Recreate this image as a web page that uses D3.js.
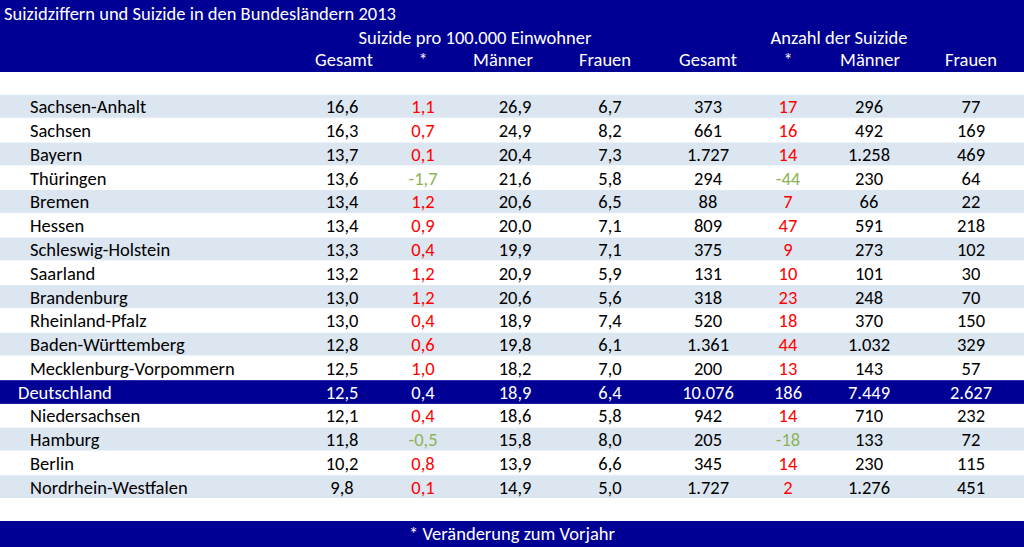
<!DOCTYPE html>
<html><head><meta charset="utf-8">
<script src="https://cdn.jsdelivr.net/npm/d3@7"></script>
<style>
html,body{margin:0;padding:0;background:#fff;}
svg{display:block;font-family:Carlito,Lato,"Open Sans",sans-serif;}
</style></head><body>
<svg id="c" width="1024" height="547"></svg>
<script>
const title = "Suizidziffern und Suizide in den Bundesländern 2013";
const groupLabels = ["Suizide pro 100.000 Einwohner", "Anzahl der Suizide"];
const columnLabels = ["Gesamt", "*", "Männer", "Frauen", "Gesamt", "*", "Männer", "Frauen"];
const footnote = "* Veränderung zum Vorjahr";
const states = ["Sachsen-Anhalt","Sachsen","Bayern","Thüringen","Bremen","Hessen","Schleswig-Holstein","Saarland","Brandenburg","Rheinland-Pfalz","Baden-Württemberg","Mecklenburg-Vorpommern","Deutschland","Niedersachsen","Hamburg","Berlin","Nordrhein-Westfalen"];
const rateTotal = [16.6,16.3,13.7,13.6,13.4,13.4,13.3,13.2,13.0,13.0,12.8,12.5,12.5,12.1,11.8,10.2,9.8];
const rateChange = [1.1,0.7,0.1,-1.7,1.2,0.9,0.4,1.2,1.2,0.4,0.6,1.0,0.4,0.4,-0.5,0.8,0.1];
const rateMen = [26.9,24.9,20.4,21.6,20.6,20.0,19.9,20.9,20.6,18.9,19.8,18.2,18.9,18.6,15.8,13.9,14.9];
const rateWomen = [6.7,8.2,7.3,5.8,6.5,7.1,7.1,5.9,5.6,7.4,6.1,7.0,6.4,5.8,8.0,6.6,5.0];
const countTotal = [373,661,1727,294,88,809,375,131,318,520,1361,200,10076,942,205,345,1727];
const countChange = [17,16,14,-44,7,47,9,10,23,18,44,13,186,14,-18,14,2];
const countMen = [296,492,1258,230,66,591,273,101,248,370,1032,143,7449,710,133,230,1276];
const countWomen = [77,169,469,64,22,218,102,30,70,150,329,57,2627,232,72,115,451];
const highlight = "Deutschland";

const W = 1024, H = 547, FS = 18.5;
const navy = "#000095", band = "#dce6f1", red = "#ff0000", green = "#8db356";
const loc = d3.formatLocale({decimal:",", thousands:".", grouping:[3], currency:["","€"], minus:"-"});
const fRate = loc.format(".1f"), fCount = loc.format(",d");

const svg = d3.select("#c");
const y = d3.scaleBand().domain(states).range([95, 499]).paddingInner(0);
const colKeys = d3.range(8);
const colVal = d3.scaleOrdinal().domain(colKeys).range([342, 423, 515, 610, 708, 788, 869, 971]);
const colHead = d3.scaleOrdinal().domain(colKeys).range([344, 423, 503, 605, 708, 788, 870, 971]);

// header band
svg.append("rect").attr("x",0).attr("y",0).attr("width",W).attr("height",72).attr("fill",navy);
svg.append("text").attr("x",4).attr("y",20).attr("fill","#fff").attr("font-size",FS).text(title);
svg.append("text").attr("x",475).attr("y",44).attr("text-anchor","middle").attr("fill","#fff").attr("font-size",FS).text(groupLabels[0]);
svg.append("text").attr("x",839).attr("y",44).attr("text-anchor","middle").attr("fill","#fff").attr("font-size",FS).text(groupLabels[1]);
svg.selectAll("text.ch").data(columnLabels).join("text").attr("class","ch")
  .attr("x",(d,i)=>colHead(i)).attr("y",66).attr("text-anchor","middle").attr("fill","#fff").attr("font-size",FS).text(d=>d);

// rows
const rows = states.map((s,i)=>({name:s,i,vals:[rateTotal[i],rateChange[i],rateMen[i],rateWomen[i],countTotal[i],countChange[i],countMen[i],countWomen[i]]}));
const g = svg.selectAll("g.row").data(rows).join("g").attr("class","row");
g.append("rect").attr("x",0).attr("width",W).attr("y",d=>y(d.name)).attr("height",y.bandwidth())
  .attr("fill",d=>d.name===highlight?navy:(d.i%2===0?band:"#fff"));
g.filter(d=>d.name!==highlight).append("line").attr("x1",0).attr("x2",W)
  .attr("y1",d=>y(d.name)+y.bandwidth()-0.5).attr("y2",d=>y(d.name)+y.bandwidth()-0.5)
  .attr("stroke","#fff").attr("stroke-width",1);
g.append("text").attr("x",d=>d.name===highlight?18:30).attr("y",d=>y(d.name)+y.bandwidth()/2+6.5)
  .attr("font-size",FS).attr("fill",d=>d.name===highlight?"#fff":"#000").text(d=>d.name);
g.each(function(d){
  const hi = d.name===highlight;
  d3.select(this).selectAll("text.v").data(d.vals).join("text").attr("class","v")
    .attr("x",(v,j)=>colVal(j)).attr("y",y(d.name)+y.bandwidth()/2+6.5)
    .attr("text-anchor","middle").attr("font-size",FS)
    .attr("fill",(v,j)=>hi?"#fff":((j===1||j===5)?(v<0?green:red):"#000"))
    .text((v,j)=>j<4?fRate(v):fCount(v));
});

// footer band
svg.append("rect").attr("x",0).attr("y",521).attr("width",W).attr("height",26).attr("fill",navy);
svg.append("text").attr("x",512).attr("y",540).attr("text-anchor","middle").attr("fill","#fff").attr("font-size",FS).text(footnote);
</script></body></html>
